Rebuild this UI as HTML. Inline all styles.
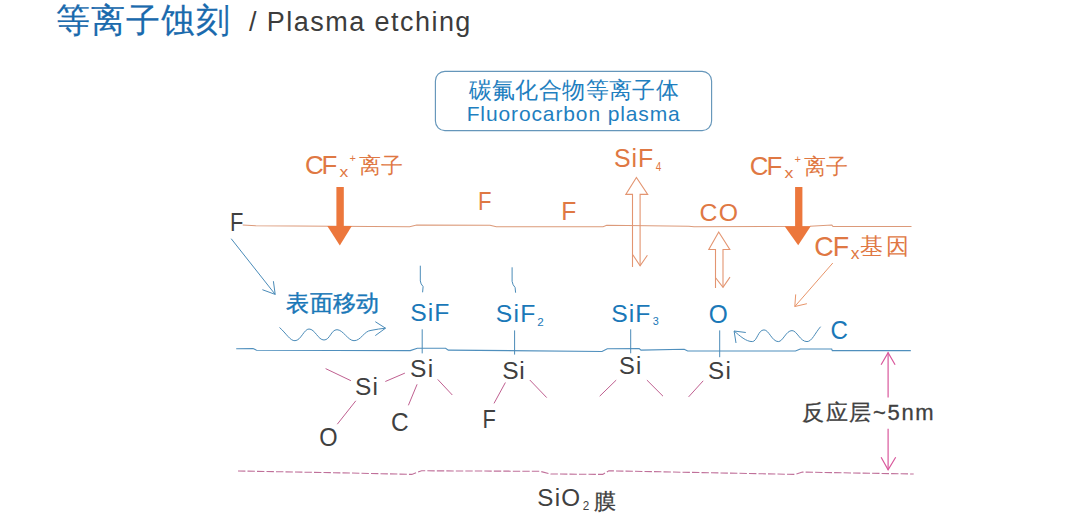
<!DOCTYPE html>
<html><head><meta charset="utf-8">
<style>
html,body{margin:0;padding:0;background:#fff;width:1076px;height:513px;overflow:hidden}
svg{display:block}
text{font-family:"Liberation Sans",sans-serif}
</style></head>
<body>
<svg width="1076" height="513" viewBox="0 0 1076 513">
<!-- Box -->
<rect x="435.4" y="71.4" width="276.2" height="59.2" rx="9.5" ry="9.5" fill="#fff" stroke="#6596ba" stroke-width="1.15"/>
<!-- orange surface line -->
<polyline points="242.7,225 255.9,225.8 409.6,226.7 416.7,225 490,225.2 496.3,226.7 603.1,226.7 606.7,225.3 688.9,226.2 694,226.8 810,226.2 831.8,225 833,226.5 911.5,226.5" fill="none" stroke="#dc9a7a" stroke-width="1.1"/>
<!-- blue surface line -->
<polyline points="236.2,348.8 253,348.5 256.5,350.2 410.2,350.6 417.3,348.3 445.6,348.3 448.3,350.1 602,351.5 607.3,348.8 639.2,348.5 641,350.1 684.2,349.2 687.7,351 795.5,351 800.3,349 831.7,349 832.3,350.6 910.8,350.6" fill="none" stroke="#4f8fbd" stroke-width="1.1"/>
<!-- pink dashed line -->
<polyline points="238,471 350,473 411.8,474.4 421.6,470.8 540,471.3 550.6,474 602.7,474.4 608.9,470.8 795.4,474.4 802.4,472.1 913.7,474" fill="none" stroke="#c0709a" stroke-width="1.1" stroke-dasharray="7.4 2.1"/>
<!-- thick orange arrows -->
<rect x="336.4" y="187" width="7.4" height="40" fill="#ec773c"/>
<polygon points="327.3,226 351.8,226 339.8,245.4" fill="#ec773c"/>
<rect x="795.1" y="187" width="7.3" height="40" fill="#ec773c"/>
<polygon points="784.6,226.3 810.7,226.3 798.2,245.3" fill="#ec773c"/>
<!-- double hollow arrows -->
<g fill="none" stroke="#e39571" stroke-width="1.1">
<polyline points="632.5,267 632.5,194.4 625.8,194.4 636.4,177.5 647.7,194.4 640.1,194.4 640.1,265.8"/>
<polyline points="632.8,254.8 640.1,265.8 647.4,255.3"/>
<polyline points="715.5,287.9 715.5,249.5 708.8,249.5 718.7,232 729.8,249.5 723,249.5 723,287.3"/>
<polyline points="715.8,278 723,287.3 730,277.1"/>
</g>
<!-- thin orange arrow -->
<g fill="none" stroke="#e8956a" stroke-width="1">
<line x1="832.8" y1="263" x2="794.8" y2="306.5"/>
<polyline points="795.7,294.4 794.8,306.5 806.9,303.7"/>
</g>
<!-- blue strokes -->
<g fill="none" stroke="#4a8bb8" stroke-width="1">
<line x1="231.2" y1="238.7" x2="275.2" y2="294.4"/>
<polyline points="273.4,281.2 275.2,294.4 262.4,289.7"/>
<path d="M279.5,327.5 C286,333 290,341 295,340.7 C301,340.5 304,329 309,329 C315,329 318,340 324,340 C330,340 331,329.7 337,329.7 C343,329.7 348,340.7 354,340.7 C361,340.7 364,331 371,330.4 C376,329.5 381,328.5 385.5,328.2"/>
<polyline points="375.3,321.7 385.5,328.2 375.3,335.6"/>
<path d="M420.3,265.7 L420.3,280.9 Q420.6,284 423.1,286.6 L422.6,292.3"/>
<line x1="422.2" y1="329.3" x2="422.2" y2="353.4"/>
<path d="M512.1,267.3 L512.1,281.3 Q512.6,285 515.1,287.5 L515.6,292.7"/>
<line x1="514.6" y1="330.4" x2="514.6" y2="354.6"/>
<line x1="630.7" y1="329.3" x2="630.7" y2="353.3"/>
<line x1="719.7" y1="330.4" x2="719.7" y2="357.2"/>
<path d="M820.6,326.7 C815,333 812,341.6 807,341.6 C800,341.6 797,330.6 792,330.6 C786,330.6 783,341.6 778.3,341.6 C772,341.6 769,329.9 764,329.9 C758,329.9 757,341.6 752.3,341.6 C746,341.6 740,336 734.1,331"/>
<polyline points="745.8,332.5 734.1,331 736,343"/>
</g>
<!-- bonds -->
<g stroke="#bf5f90" stroke-width="1">
<line x1="325.6" y1="368.6" x2="350.9" y2="380.7"/>
<line x1="385.3" y1="381.5" x2="404.9" y2="373.1"/>
<line x1="355.8" y1="400.8" x2="337.3" y2="424.2"/>
<line x1="417.1" y1="384.3" x2="408.4" y2="405.3"/>
<line x1="437.7" y1="379.4" x2="452.3" y2="395"/>
<line x1="505.4" y1="382.5" x2="494" y2="403.4"/>
<line x1="529.8" y1="380" x2="546.7" y2="397.6"/>
<line x1="616.2" y1="380.1" x2="599.7" y2="396.2"/>
<line x1="646.9" y1="380.1" x2="663" y2="396.2"/>
<line x1="703.2" y1="380.8" x2="688.6" y2="396.9"/>
</g>
<!-- dimension arrows -->
<g stroke="#d9589c" stroke-width="1.2" fill="none">
<line x1="888.1" y1="352.6" x2="888.1" y2="397.4"/>
<polyline points="881.1,364.8 888.1,352.6 895.1,364.8"/>
<line x1="888.1" y1="428.8" x2="888.1" y2="469.8"/>
<polyline points="881.1,457.2 888.1,469.8 895.7,457.2"/>
</g>

<text x="55.97" y="32.06" font-size="34.18" letter-spacing="1.00" fill="#1a6aad" stroke="#1a6aad" stroke-width="0.2">等离子蚀刻</text>
<text x="248.90" y="31.29" font-size="27.00" letter-spacing="1.46" fill="#3c3c3c">/ Plasma etching</text>
<text x="468.66" y="98.14" font-size="22.63" letter-spacing="0.39" fill="#1f7fc0">碳氟化合物等离子体</text>
<text x="466.66" y="121.13" font-size="21.00" letter-spacing="0.88" fill="#1f7fc0">Fluorocarbon plasma</text>
<text x="304.94" y="174.08" font-size="25.92" letter-spacing="-2.06" fill="#df7843">CF</text>
<text transform="translate(339.49,177.44) scale(1.146,1)" font-size="15.28" fill="#df7843">x</text>
<text x="349.45" y="162.19" font-size="11.00" fill="#df7843">+</text>
<text x="358.67" y="172.57" font-size="22.28" letter-spacing="0.56" fill="#df7843">离子</text>
<text transform="translate(478.11,209.78) scale(0.863,1)" font-size="25.65" fill="#df7843">F</text>
<text transform="translate(561.16,219.78) scale(0.967,1)" font-size="25.51" fill="#df7843">F</text>
<text x="613.98" y="167.43" font-size="24.86" letter-spacing="0.92" fill="#df7843">SiF</text>
<text transform="translate(655.78,171.13) scale(0.753,1)" font-size="13.24" fill="#df7843">4</text>
<text x="699.54" y="221.21" font-size="24.79" letter-spacing="1.40" fill="#df7843">CO</text>
<text x="749.72" y="174.74" font-size="25.92" letter-spacing="-1.94" fill="#df7843">CF</text>
<text transform="translate(784.50,178.44) scale(1.146,1)" font-size="15.47" fill="#df7843">x</text>
<text x="794.45" y="163.23" font-size="11.00" fill="#df7843">+</text>
<text x="803.57" y="173.63" font-size="22.45" letter-spacing="0.78" fill="#df7843">离子</text>
<text x="814.31" y="255.97" font-size="26.90" letter-spacing="-1.02" fill="#df7843">CF</text>
<text transform="translate(850.73,258.78) scale(1.020,1)" font-size="17.17" fill="#df7843">x</text>
<text x="860.40" y="253.73" font-size="23.33" letter-spacing="2.77" fill="#df7843">基因</text>
<text transform="translate(230.08,231.00) scale(0.847,1)" font-size="25.80" fill="#404040">F</text>
<text x="286.44" y="311.04" font-size="22.81" letter-spacing="0.15" fill="#1a78b8" stroke="#1a78b8" stroke-width="0.4">表面移动</text>
<text x="410.20" y="321.09" font-size="24.73" letter-spacing="1.07" fill="#1a78b8">SiF</text>
<text x="495.76" y="322.21" font-size="24.73" letter-spacing="1.23" fill="#1a78b8">SiF</text>
<text transform="translate(537.22,326.12) scale(0.994,1)" font-size="11.71" fill="#1a78b8">2</text>
<text x="611.20" y="321.97" font-size="24.73" letter-spacing="1.01" fill="#1a78b8">SiF</text>
<text transform="translate(652.75,325.45) scale(0.985,1)" font-size="10.99" fill="#1a78b8">3</text>
<text transform="translate(708.72,322.75) scale(0.960,1)" font-size="25.49" fill="#1a78b8">O</text>
<text transform="translate(830.53,338.74) scale(0.942,1)" font-size="25.63" fill="#1a78b8">C</text>
<text x="355.02" y="394.88" font-size="24.46" letter-spacing="1.15" fill="#404040">Si</text>
<text x="409.89" y="377.21" font-size="24.59" letter-spacing="1.38" fill="#404040">Si</text>
<text x="502.23" y="378.75" font-size="24.59" letter-spacing="0.58" fill="#404040">Si</text>
<text x="619.05" y="374.20" font-size="23.78" letter-spacing="0.99" fill="#404040">Si</text>
<text x="707.91" y="379.42" font-size="24.19" letter-spacing="1.57" fill="#404040">Si</text>
<text transform="translate(319.21,446.21) scale(0.926,1)" font-size="25.49" fill="#404040">O</text>
<text transform="translate(391.10,430.75) scale(0.960,1)" font-size="25.49" fill="#404040">C</text>
<text transform="translate(482.52,428.00) scale(0.833,1)" font-size="26.23" fill="#404040">F</text>
<text x="801.92" y="420.42" font-size="22.00" letter-spacing="1.69" fill="#404040" stroke="#404040" stroke-width="0.3">反应层~5nm</text>
<text x="537.35" y="505.98" font-size="24.19" letter-spacing="1.22" fill="#404040">SiO</text>
<text transform="translate(582.78,509.78) scale(0.948,1)" font-size="12.29" fill="#404040">2</text>
<text x="594.34" y="509.21" font-size="22.17" fill="#404040" stroke="#404040" stroke-width="0.3">膜</text>
</svg>
</body></html>
